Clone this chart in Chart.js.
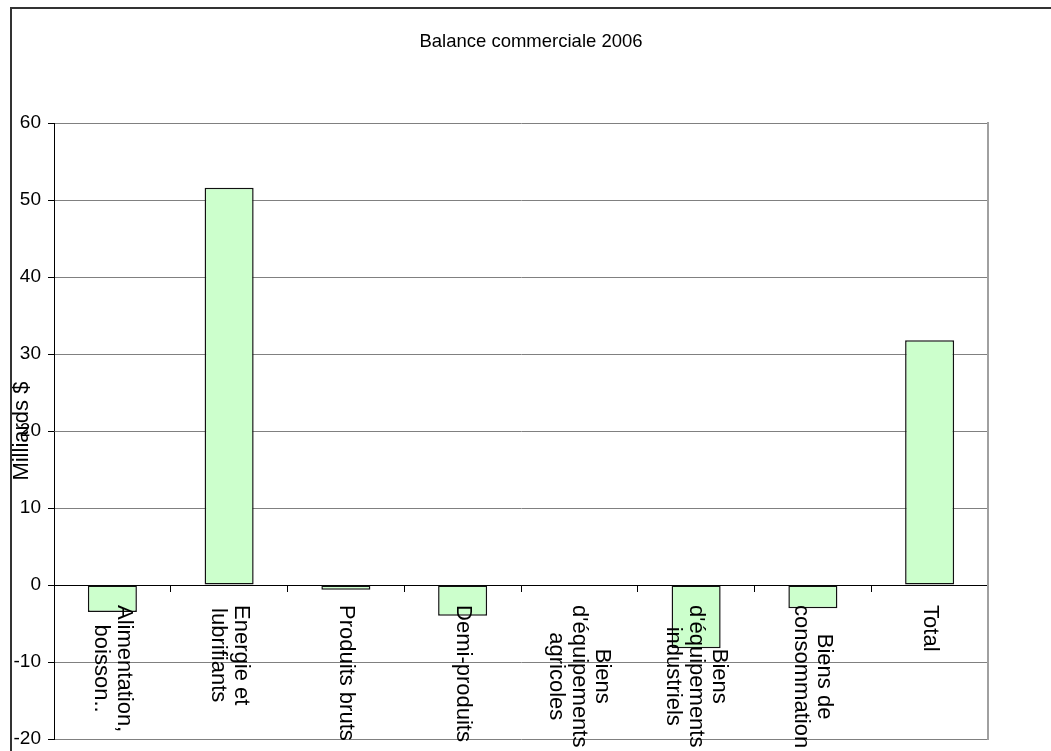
<!DOCTYPE html>
<html>
<head>
<meta charset="utf-8">
<title>Balance commerciale 2006</title>
<script src="https://cdn.jsdelivr.net/npm/chart.js@4/dist/chart.umd.min.js"></script>
<style>
    body { margin: 0; background: #fff; overflow: hidden; }
    .frame { position: absolute; left: 10px; top: 7px; width: 1200px; height: 900px; border: 2px solid #333; }
    #chart { position: absolute; left: 0; top: 0; }
</style>
</head>
<body>
<div class="frame"></div>
<canvas id="chart" width="1051" height="751"></canvas>
<script>
// données
let categories = [
    ["Alimentation,", "boisson.."],
    ["Energie et", "lubrifiants"],
    ["Produits bruts"],
    ["Demi-produits"],
    ["Biens", "d'équipements", "agricoles"],
    ["Biens", "d'équipements", "industriels"],
    ["Biens de", "consommation"],
    ["Total"]
];
let balance = [-3.5, 51.6, -0.6, -4.0, 0, -8.2, -3.0, 31.8];
let yTicks = [-20, -10, 0, 10, 20, 30, 40, 50, 60];

const FONT = '"Liberation Sans", Arial, sans-serif';

// titre de l'axe Y (dessiné par-dessus les graduations comme sur l'original)
const yTitlePlugin = {
    id: 'yTitle',
    afterDraw(chart) {
        let ctx = chart.ctx;
        let area = chart.chartArea;
        ctx.save();
        ctx.translate(22, (area.top + area.bottom) / 2);
        ctx.rotate(-Math.PI / 2);
        ctx.font = '22px ' + FONT;
        ctx.fillStyle = '#000';
        ctx.textAlign = 'center';
        ctx.textBaseline = 'middle';
        ctx.fillText('Milliards $', 0, 0);
        ctx.restore();
    }
};

// étiquettes des catégories, verticales, sous la ligne zéro
const categoryLabelPlugin = {
    id: 'categoryLabels',
    afterDraw(chart) {
        let ctx = chart.ctx;
        let xScale = chart.scales.x;
        let zeroY = chart.scales.y.getPixelForValue(0);
        let lineHeight = 23;
        ctx.save();
        ctx.font = '22px ' + FONT;
        ctx.fillStyle = '#000';
        ctx.textAlign = 'center';
        ctx.textBaseline = 'middle';
        chart.data.labels.forEach((lines, i) => {
            let maxW = Math.max(...lines.map((l) => ctx.measureText(l).width));
            let x = xScale.getPixelForValue(i);
            ctx.save();
            ctx.translate(x, zeroY + 20 + maxW / 2);
            ctx.rotate(Math.PI / 2);
            lines.forEach((line, j) => {
                ctx.fillText(line, 0, (j - (lines.length - 1) / 2) * lineHeight);
            });
            ctx.restore();
        });
        ctx.restore();
    }
};

function createChartConfig() {
    let config = {
        type: 'bar',
        data: {
            labels: categories,
            datasets: [
                {
                    label: 'Balance commerciale',
                    data: balance,
                    backgroundColor: '#CCFFCC',
                    borderColor: '#111',
                    borderWidth: 1.5,
                    borderSkipped: false,
                    categoryPercentage: 1,
                    barPercentage: 0.42
                }
            ]
        },
        options: {
            responsive: false,
            animation: false,
            layout: {
                padding: { left: 11, right: 0, top: 0, bottom: 12 }
            },
            plugins: {
                legend: { display: false },
                tooltip: { enabled: false },
                title: {
                    display: true,
                    text: 'Balance commerciale 2006',
                    color: '#000',
                    font: { family: FONT, size: 18.5, weight: 'normal' },
                    padding: { top: 31, bottom: 70 }
                }
            },
            scales: {
                x: {
                    type: 'category',
                    position: { y: 0 },
                    offset: true,
                    afterFit: (scale) => {
                        scale.height = 0;
                        scale.paddingLeft = 0;
                        scale.paddingRight = 0;
                    },
                    grid: {
                        offset: true,
                        drawOnChartArea: false,
                        drawTicks: true,
                        tickLength: 6,
                        color: '#000'
                    },
                    border: { display: true, color: '#000', width: 1 },
                    ticks: { display: false }
                },
                y: {
                    min: yTicks[0],
                    max: yTicks[yTicks.length - 1],
                    afterBuildTicks: (scale) => {
                        scale.ticks = yTicks.map((v) => ({ value: v }));
                    },
                    afterFit: (scale) => {
                        scale.width = 43;
                        scale.paddingTop = 0;
                        scale.paddingBottom = 0;
                    },
                    grid: {
                        color: (c) => (c.tick && c.tick.value === 0 ? '#000' : '#808080'),
                        tickColor: '#000',
                        tickLength: 6
                    },
                    border: { display: true, color: '#000', width: 1 },
                    ticks: {
                        color: '#000',
                        padding: 7,
                        font: { family: FONT, size: 19 }
                    }
                },
                yRight: {
                    position: 'right',
                    min: yTicks[0],
                    max: yTicks[yTicks.length - 1],
                    afterFit: (scale) => {
                        scale.width = 63;
                        scale.paddingTop = 0;
                        scale.paddingBottom = 0;
                    },
                    grid: { display: false },
                    border: { display: true, color: '#a0a0a0', width: 2 },
                    ticks: { display: false }
                }
            }
        },
        plugins: [yTitlePlugin, categoryLabelPlugin]
    };
    return config;
}

const ctx = document.getElementById('chart').getContext('2d');
const myChart = new Chart(ctx, createChartConfig());
</script>
</body>
</html>
